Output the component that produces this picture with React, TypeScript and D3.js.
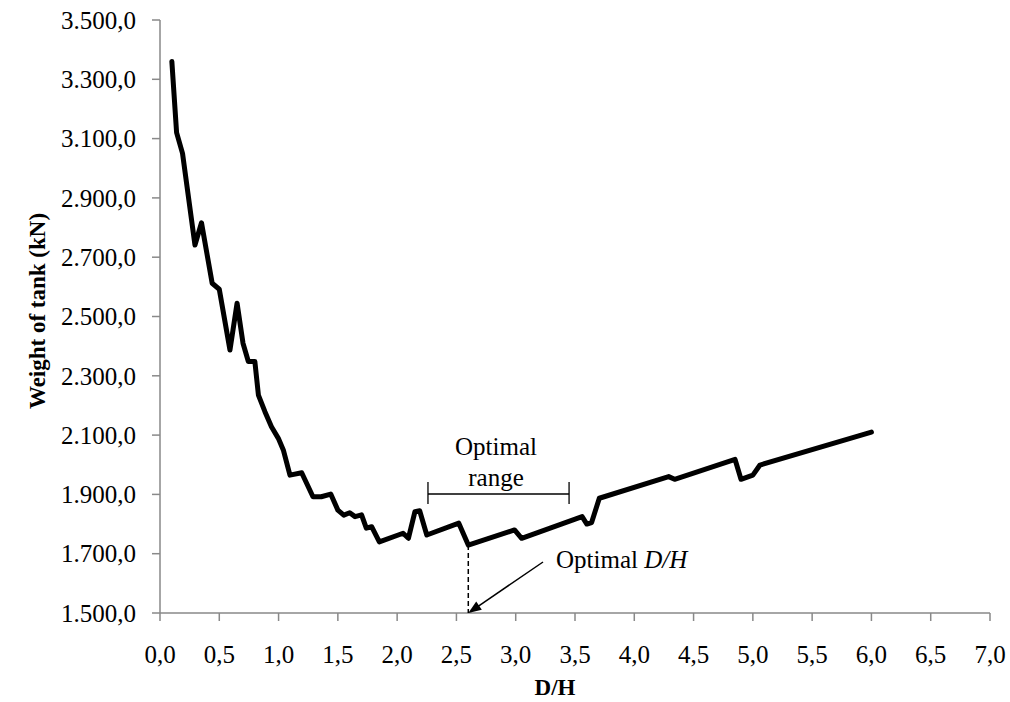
import * as d3 from 'd3';

// D/H ratio vs. tank weight (kN)
const dh = [
  0.1, 0.14, 0.19, 0.295, 0.35, 0.44, 0.5, 0.59, 0.65, 0.7, 0.745, 0.8,
  0.83, 0.885, 0.94, 0.998, 1.04, 1.096, 1.195, 1.29, 1.36, 1.44, 1.5, 1.55,
  1.6, 1.645, 1.7, 1.74, 1.785, 1.85, 2.05, 2.095, 2.15, 2.19, 2.25, 2.52,
  2.6, 2.99, 3.05, 3.56, 3.6, 3.64, 3.705, 4.29, 4.34, 4.85, 4.9, 5.0, 5.06, 6.0,
];
const weight = [
  3360, 3120, 3050, 2741, 2816, 2612, 2592, 2387, 2545, 2410, 2348, 2348,
  2235, 2179, 2128, 2089, 2050, 1965, 1973, 1892, 1892, 1901, 1847, 1830,
  1838, 1825, 1831, 1786, 1791, 1740, 1769, 1752, 1842, 1845, 1763, 1803,
  1729, 1780, 1752, 1825, 1800, 1805, 1887, 1960, 1951, 2018, 1951, 1965, 1999, 2110,
];

const xTicks = [0, 0.5, 1, 1.5, 2, 2.5, 3, 3.5, 4, 4.5, 5, 5.5, 6, 6.5, 7];
const yTicks = [1500, 1700, 1900, 2100, 2300, 2500, 2700, 2900, 3100, 3300, 3500];

const optimalDH = 2.6;
const optimalRange = [2.26, 3.45];

const W = 1010;
const H = 702;
const serif = '"Liberation Serif", "Times New Roman", serif';

const locale = d3.formatLocale({ decimal: ',', thousands: '.', grouping: [3], currency: ['', ''] });
const fmtY = locale.format(',.1f');
const fmtX = locale.format('.1f');

export default function App() {
  const x = d3.scaleLinear().domain([0, 7]).range([160, 990]);
  const y = d3.scaleLinear().domain([1500, 3500]).range([613, 20]);

  const pts: [number, number][] = dh.map((d, i) => [d, weight[i]]);
  const line = d3.line<[number, number]>().x(d => x(d[0])).y(d => y(d[1]));

  const optIdx = dh.indexOf(optimalDH);
  const axisColor = '#898989';

  // arrow from label to the optimal point on the axis
  const ax0 = 543, ay0 = 562;
  const ax1 = x(optimalDH), ay1 = y(1500);
  const ang = Math.atan2(ay1 - ay0, ax1 - ax0);
  const hl = 13, hw = 5;
  const head = [
    [ax1, ay1],
    [ax1 - hl * Math.cos(ang) + hw * Math.sin(ang), ay1 - hl * Math.sin(ang) - hw * Math.cos(ang)],
    [ax1 - hl * Math.cos(ang) - hw * Math.sin(ang), ay1 - hl * Math.sin(ang) + hw * Math.cos(ang)],
  ];

  const rx0 = x(optimalRange[0]);
  const rx1 = x(optimalRange[1]);
  const ry = 494;

  return (
    <svg width={W} height={H} style={{ position: 'absolute', left: 0, top: 0, background: '#fff' }}>
      {/* axes */}
      <line x1={x(0)} x2={x(0)} y1={y(3500)} y2={y(1500)} stroke={axisColor} strokeWidth={1.5} />
      <line x1={x(0)} x2={x(7)} y1={y(1500)} y2={y(1500)} stroke={axisColor} strokeWidth={1.5} />
      {yTicks.map(t => (
        <g key={'y' + t}>
          <line x1={x(0) - 8} x2={x(0)} y1={y(t)} y2={y(t)} stroke={axisColor} strokeWidth={1.5} />
          <text x={136} y={y(t)} dy="0.35em" textAnchor="end" fontFamily={serif} fontSize={25}>
            {fmtY(t)}
          </text>
        </g>
      ))}
      {xTicks.map(t => (
        <g key={'x' + t}>
          <line x1={x(t)} x2={x(t)} y1={y(1500)} y2={y(1500) + 8} stroke={axisColor} strokeWidth={1.5} />
          <text x={x(t)} y={663} textAnchor="middle" fontFamily={serif} fontSize={25}>
            {fmtX(t)}
          </text>
        </g>
      ))}

      {/* axis titles */}
      <text x={555} y={695} textAnchor="middle" fontFamily={serif} fontSize={23} fontWeight="bold">
        D/H
      </text>
      <text
        transform={`translate(37,311) rotate(-90)`}
        dy="0.35em"
        textAnchor="middle"
        fontFamily={serif}
        fontSize={23}
        fontWeight="bold"
      >
        Weight of tank (kN)
      </text>

      {/* dashed drop line at the optimum */}
      <line
        x1={x(optimalDH)}
        x2={x(optimalDH)}
        y1={y(weight[optIdx])}
        y2={y(1500)}
        stroke="#000"
        strokeWidth={1.5}
        strokeDasharray="5,3"
      />

      {/* data line */}
      <path d={line(pts) || ''} fill="none" stroke="#000" strokeWidth={5} strokeLinejoin="round" strokeLinecap="round" />

      {/* optimal range bracket */}
      <line x1={rx0} x2={rx1} y1={ry} y2={ry} stroke="#000" strokeWidth={1.3} />
      <line x1={rx0} x2={rx0} y1={ry - 12} y2={ry + 10} stroke="#000" strokeWidth={1.3} />
      <line x1={rx1} x2={rx1} y1={ry - 12} y2={ry + 10} stroke="#000" strokeWidth={1.3} />
      <text x={496} y={455} textAnchor="middle" fontFamily={serif} fontSize={25}>
        Optimal
      </text>
      <text x={496} y={486} textAnchor="middle" fontFamily={serif} fontSize={25}>
        range
      </text>

      {/* optimal D/H annotation */}
      <line x1={ax0} y1={ay0} x2={ax1 - (hl - 2) * Math.cos(ang)} y2={ay1 - (hl - 2) * Math.sin(ang)} stroke="#000" strokeWidth={1.5} />
      <polygon points={head.map(p => p.join(',')).join(' ')} fill="#000" />
      <text x={556} y={568} fontFamily={serif} fontSize={25}>
        Optimal <tspan fontStyle="italic">D/H</tspan>
      </text>
    </svg>
  );
}
